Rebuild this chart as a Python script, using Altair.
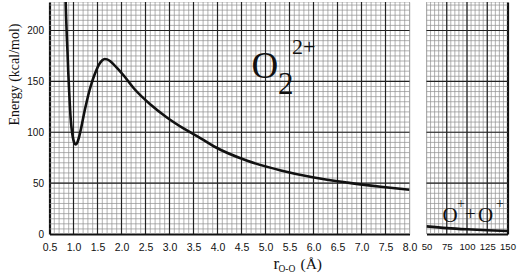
import altair as alt
import pandas as pd

# ---- data ----
r_inner = [0.83, 0.845, 0.86, 0.875, 0.89, 0.91, 0.94, 0.97, 1.00, 1.03, 1.05, 1.08,
           1.12, 1.17, 1.22, 1.28, 1.33, 1.38, 1.43, 1.48, 1.53, 1.60, 1.65, 1.70,
           1.76, 1.83, 1.92, 2.05, 2.26, 2.61, 2.96, 3.30, 3.65, 3.93, 4.62, 5.32,
           6.01, 6.71, 7.40, 8.00]
e_inner = [240, 215, 195, 179, 160, 140, 114, 100, 92, 88.5, 88, 90,
           96, 106.5, 118.5, 131, 140.5, 148.5, 155.5, 161.5, 166.5, 170.8, 172, 171.6,
           170, 167, 162.5, 155.5, 143, 127, 114, 103.5, 94, 86, 72, 62.5,
           55.5, 50.5, 46.5, 43.5]
r_outer = [50, 75, 100, 125, 150]
e_outer = [7.5, 5.8, 4.6, 3.7, 3.0]

x_ticks_left = [0.5, 1.0, 1.5, 2.0, 2.5, 3.0, 3.5, 4.0, 4.5, 5.0, 5.5, 6.0, 6.5, 7.0, 7.5, 8.0]
x_ticks_right = [50, 75, 100, 125, 150]
y_ticks = [0, 50, 100, 150, 200]

# graph-paper rulings
major_v_left = [1.0, 1.5, 2.0, 2.5, 3.0, 3.5, 4.0, 4.5, 5.0, 5.5, 6.0, 6.5, 7.0, 7.5]
minor_v_left = [round(0.5 + 0.1 * i, 1) for i in range(1, 76)]
major_v_right = [75, 100, 125]
minor_v_right = [50 + 5 * i for i in range(0, 20)]
major_h = [50, 100, 150, 200]
minor_h = [5 * i for i in range(1, 46)]

SERIF = "Liberation Serif"
SANS = "Liberation Sans"
MINOR = "#8f8f8f"
MAJOR = "#222222"
INK = "#111111"

xl = alt.Scale(domain=[0.5, 8.0], nice=False, zero=False)
xr = alt.Scale(domain=[50, 150], nice=False, zero=False)
ys = alt.Scale(domain=[0, 228], nice=False)
H = 232

ax_xl = alt.Axis(values=x_ticks_left, format=".1f", title=None, grid=False, ticks=False,
                 labelPadding=8, labelFont=SANS, labelFontSize=10.5, labelColor=INK,
                 domainColor=INK, domainWidth=2.2, labelFlush=False)
ax_yl = alt.Axis(values=y_ticks, grid=False, ticks=False, labelPadding=6,
                 labelFont=SANS, labelFontSize=10, labelColor=INK,
                 domainColor=INK, domainWidth=2.2,
                 title="Energy (kcal/mol)", titleFont=SERIF, titleFontSize=14,
                 titleFontWeight="normal", titleColor=INK,
                 titleX=-35, titleY=72, titleAngle=-90, titleBaseline="middle",
                 titleAlign="center")
ax_xr = alt.Axis(values=x_ticks_right, title=None, grid=False, ticks=False,
                 labelPadding=7, labelFont=SANS, labelFontSize=9.5, labelColor=INK,
                 domainColor=INK, domainWidth=2.2, labelFlush=False)
ax_yr = alt.Axis(orient="right", values=y_ticks, labels=False, ticks=False, grid=False,
                 title=None, domainColor=INK, domainWidth=2.2)


def vrules(vals, scale, axis, color, w):
    return alt.Chart(pd.DataFrame({"v": vals})).mark_rule(color=color, strokeWidth=w).encode(
        x=alt.X("v:Q", scale=scale, axis=axis))


def hrules(vals, axis, color, w):
    return alt.Chart(pd.DataFrame({"v": vals})).mark_rule(color=color, strokeWidth=w).encode(
        y=alt.Y("v:Q", scale=ys, axis=axis))


def txt(s, x, y, size, font=SERIF):
    return alt.Chart(pd.DataFrame({"t": [s]})).mark_text(
        font=font, fontSize=size, align="left", baseline="alphabetic", color=INK
    ).encode(x=alt.value(x), y=alt.value(y), text="t:N")


inner_df = pd.DataFrame({"r": r_inner, "e": e_inner})
outer_df = pd.DataFrame({"r": r_outer, "e": e_outer})

curve_left = alt.Chart(inner_df).mark_line(
    color=INK, strokeWidth=2.6, interpolate="monotone", clip=True
).encode(
    x=alt.X("r:Q", scale=xl, axis=ax_xl),
    y=alt.Y("e:Q", scale=ys, axis=ax_yl),
)

left = alt.layer(
    vrules(minor_v_left, xl, ax_xl, MINOR, 0.7),
    hrules(minor_h, ax_yl, MINOR, 0.7),
    vrules(major_v_left, xl, ax_xl, MAJOR, 1.2),
    hrules(major_h, ax_yl, MAJOR, 1.2),
    curve_left,
    txt("O", 202, 76, 37),
    txt("2", 228.5, 92, 31),
    txt("2+", 242.5, 52, 22),
    txt("r", 224, 267, 17),
    txt("O-O", 229, 270, 9.5),
    txt("(Å)", 251, 267, 15.5),
).properties(width=360, height=H)

curve_right = alt.Chart(outer_df).mark_line(
    color=INK, strokeWidth=2.6, interpolate="monotone", clip=True
).encode(
    x=alt.X("r:Q", scale=xr, axis=ax_xr),
    y=alt.Y("e:Q", scale=ys, axis=ax_yr),
)

right = alt.layer(
    vrules(minor_v_right, xr, ax_xr, MINOR, 0.7),
    hrules(minor_h, ax_yr, MINOR, 0.7),
    vrules(major_v_right, xr, ax_xr, MAJOR, 1.2),
    hrules(major_h, ax_yr, MAJOR, 1.2),
    curve_right,
    txt("O", 16, 220, 21),
    txt("+", 30.5, 206, 14),
    txt("+", 38.5, 218, 19),
    txt("O", 51.5, 220, 21),
    txt("+", 69.5, 206, 14),
).properties(width=81, height=H)

chart = alt.hconcat(left, right, spacing=3).resolve_scale(y="independent").properties(
    padding={"left": 6.5, "top": 0, "right": 0, "bottom": 0}
).configure_view(stroke=None).configure(background="white")

chart.save("out.html", embed_options={"renderer": "svg", "actions": False})
